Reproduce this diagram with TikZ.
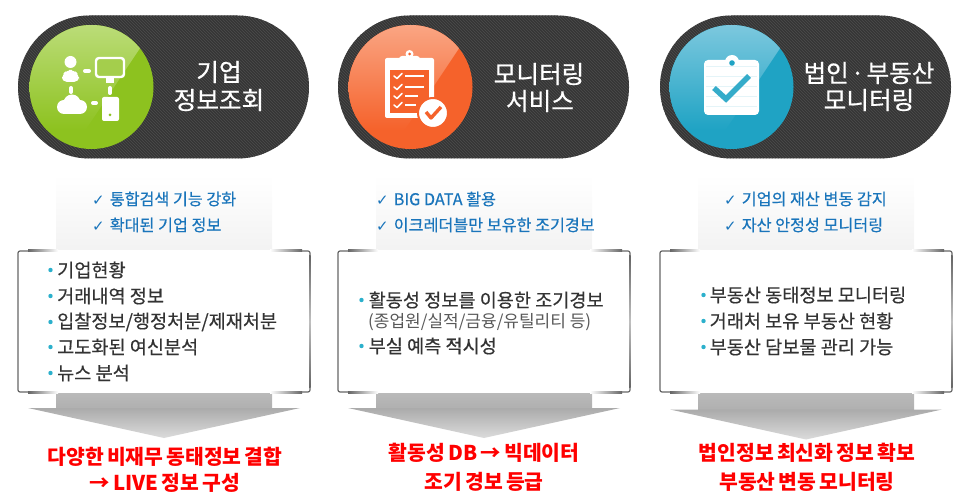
\documentclass[tikz,border=0pt]{standalone}
\usepackage{fontspec}
\setmainfont{Noto Sans CJK KR}
\newfontfamily\medfont[FakeBold=0.4]{Noto Sans CJK KR}
\newfontfamily\titlefont[FakeBold=0.6,WordSpace=0.6]{Noto Sans CJK KR}
\newfontfamily\redfont[WordSpace=0.7]{Noto Sans CJK KR}
\newfontfamily\symfont{DejaVu Sans}
\usetikzlibrary{patterns}
\definecolor{pilldark}{HTML}{363636}
\definecolor{pillline}{HTML}{4C4C4C}
\definecolor{ballgreen}{HTML}{8DC21F}
\definecolor{glowgreen}{HTML}{BBDC78}
\definecolor{ballorange}{HTML}{F5622B}
\definecolor{gloworange}{HTML}{FAA583}
\definecolor{ballblue}{HTML}{1FA3C4}
\definecolor{glowblue}{HTML}{7CC8DE}
\definecolor{checkblue}{HTML}{1A75BB}
\definecolor{listtext}{HTML}{333333}
\definecolor{dotblue}{HTML}{2BB0CC}
\definecolor{boxgray}{HTML}{666666}
\definecolor{redtext}{HTML}{FF0000}
\tikzset{
  pillbox/.style={rectangle,rounded corners=71.5pt,minimum width=291pt,minimum height=143pt,
    inner sep=0pt,preaction={fill=pilldark},pattern=north west lines,pattern color=pillline},
  iconball/.style={circle,minimum size=124pt,inner sep=0pt},
  titletext/.style={text=white,font=\titlefont\fontsize{24.6}{28}\selectfont,inner sep=0pt},
  checktext/.style={anchor=west,text=checkblue,font=\medfont\fontsize{16.2}{20}\selectfont,inner sep=0pt},
  listtext/.style={anchor=west,text=listtext,font=\medfont\fontsize{18.6}{22}\selectfont,inner sep=0pt},
  subtext/.style={anchor=west,text=black!65,font=\fontsize{17}{20}\selectfont,inner sep=0pt},
  listdot/.style={circle,fill=dotblue,minimum size=4.4pt,inner sep=0pt},
  redline/.style={text=redtext,font=\redfont\bfseries\fontsize{20.4}{24}\selectfont,inner sep=0pt},
  listbox/.style={rectangle,rounded corners=2pt,draw=boxgray,line width=1.2pt,fill=white,
    minimum width=292pt,minimum height=141pt,inner sep=0pt},
  iconbar/.style={white,line width=4pt,line cap=round},
  tick/.style={line width=1.5pt,line cap=round,line join=round},
}
\newcommand{\chk}{{\symfont\fontsize{15}{16}\selectfont ✓}\hspace{5pt}}
\begin{document}
\begin{tikzpicture}[x=1pt,y=-1pt]
\useasboundingbox (0,0) rectangle (966,502);

% three columns
\foreach \i/\x/\cx/\base/\glow/\hy in {1/18/91.5/ballgreen/glowgreen/0,2/338/410.5/ballorange/gloworange/0,3/660/731.5/ballblue/glowblue/1.5}{
  \node[pillbox] (pill\i) at (\x+145.5,87) {};
  \node[iconball,fill=\base] (ball\i) at (\cx,87) {};
  \begin{scope}
    \clip (\cx,87) circle (62);
    \shade[top color=\glow,bottom color=\base] (\cx-70,25) -- (\cx+63,25) -- (\cx+52,43) -- (\cx-6,130) -- (\cx-70,130) -- cycle;
  \end{scope}
  \shade[top color=white,bottom color=black!5] (\x+38,175) rectangle (\x+254,252);
  \shade[top color=black!27,bottom color=black!31] (\x+38,392) rectangle (\x+254,408+\hy);
  \shade[top color=black!33,bottom color=black!14] (\x+10,408+\hy) -- (\x+282,408+\hy) -- (\x+146,438+\hy) -- cycle;
  \node[listbox] (box\i) at (\x+146,321.5) {};
  % border fades out along the middle
  \shade[left color=boxgray,right color=white] (\x+10,250) rectangle (\x+40,252);
  \fill[white] (\x+40,250) rectangle (\x+252,252);
  \shade[left color=white,right color=boxgray] (\x+252,250) rectangle (\x+284,252);
  \shade[left color=boxgray,right color=white] (\x+10,391) rectangle (\x+40,393);
  \fill[white] (\x+40,391) rectangle (\x+252,393);
  \shade[left color=white,right color=boxgray] (\x+252,391) rectangle (\x+284,393);
  \shade[top color=boxgray,bottom color=boxgray,middle color=black!25] (\x+291,256) rectangle (\x+292.6,387);
}

% green icon
\fill[white] (70.5,62) circle (6);
\fill[white,rounded corners=5pt] (62,82) -- (62,75) -- (67,70) -- (74,70) -- (79,75) -- (79,82) -- cycle;
\draw[white,line width=2.4pt,rounded corners=3pt,fill=ballgreen!80!white] (96,58) rectangle (124,77);
\fill[white] (106,78) rectangle (114,83);
\draw[iconbar] (85,71) -- (89,71);
\draw[iconbar] (71,88) -- (71,92);
\draw[iconbar] (110,88) -- (110,93);
\draw[iconbar] (93,103) -- (96,103);
\fill[white] (64,107) circle (7);
\fill[white] (72,103) circle (8.5);
\fill[white] (80,107) circle (7);
\fill[white] (64,107) rectangle (80,114);
\fill[white,rounded corners=2pt] (102,97) rectangle (119,121);
\fill[ballgreen] (110,115) circle (1.5);

% orange icon
\fill[white,rounded corners=2pt] (385,58) rectangle (434,118);
\fill[ballorange] (390,70) rectangle (429,113);
\fill[white,rounded corners=3pt] (399,56) rectangle (420,63);
\fill[white] (409.5,54) circle (4);
\fill[ballorange] (409.5,54) circle (1.5);
\foreach \cy/\ex in {76/424,87/424,96/418,105/416}{
  \draw[white,tick] (394,\cy) -- (397,\cy+2.5) -- (402,\cy-2.5);
  \draw[white,line width=2pt] (405,\cy) -- (\ex,\cy);
}
\fill[white,draw=ballorange,line width=2pt] (433,113) circle (15);
\draw[ballorange,line width=3.4pt,line join=round] (426,112) -- (431,118) -- (441,107);

% blue icon
\fill[white,rounded corners=4pt] (704,60) rectangle (759,115);
\fill[white] (732,62) circle (7);
\fill[ballblue] (732,63) circle (2.8);
\foreach \ly in {66,76,86,96,106}{
  \draw[ballblue!12,line width=.5pt] (706,\ly) -- (757,\ly);
}
\draw[ballblue!90,line width=5.4pt] (714,88) -- (726,99) -- (749,76);

% titles
\node[titletext] (titlea) at (219,72) {기업};
\node[titletext] (titleb) at (219,100) {정보조회};
\node[titletext] (titlec) at (539,74) {모니터링};
\node[titletext] (titled) at (540,101) {서비스};
\node[titletext] (titlee) at (869,73) {법인\hspace{2pt}·\hspace{2pt}부동산};
\node[titletext] (titlef) at (869,100) {모니터링};

% checks
\node[checktext] (checka) at (92,199) {\chk 통합검색 기능 강화};
\node[checktext] (checkb) at (92,225) {\chk 확대된 기업 정보};
\node[checktext] (checkc) at (376,199) {\chk BIG DATA 활용};
\node[checktext] (checkd) at (376,225) {\chk 이크레더블만 보유한 조기경보};
\node[checktext] (checke) at (724,199) {\chk 기업의 재산 변동 감지};
\node[checktext] (checkf) at (724,225) {\chk 자산 안정성 모니터링};

% lists
\foreach \n/\ty/\txt in {a/270/기업현황,b/296/거래내역 정보,c/322/{입찰정보/행정처분/제재처분},d/347/고도화된 여신분석,e/373/뉴스 분석}{
  \node[listdot] (dot\n) at (50.5,\ty) {};
  \node[listtext] (list\n) at (57,\ty) {\txt};
}
\node[listdot] (dotf) at (361.5,300) {};
\node[listtext] (listf) at (368.5,300) {활동성 정보를 이용한 조기경보};
\node[subtext] (listg) at (368,322) {(종업원/실적/금융/유틸리티 등)};
\node[listdot] (doth) at (361.5,346) {};
\node[listtext] (listh) at (368.5,346) {부실 예측 적시성};
\foreach \n/\ty/\txt in {i/295/부동산 동태정보 모니터링,j/321/거래처 보유 부동산 현황,k/347/부동산 담보물 관리 가능}{
  \node[listdot] (dot\n) at (703.5,\ty) {};
  \node[listtext] (list\n) at (709.5,\ty) {\txt};
}

% red lines
\node[redline] (reda) at (165,457) {다양한 비재무 동태정보 결합};
\node[redline] (redb) at (165,483) {→ LIVE 정보 구성};
\node[redline] (redc) at (484,453) {활동성 DB → 빅데이터};
\node[redline] (redd) at (484,482) {조기 경보 등급};
\node[redline] (rede) at (807,453) {법인정보 최신화 정보 확보};
\node[redline] (redf) at (807,482) {부동산 변동 모니터링};
\end{tikzpicture}
\end{document}
